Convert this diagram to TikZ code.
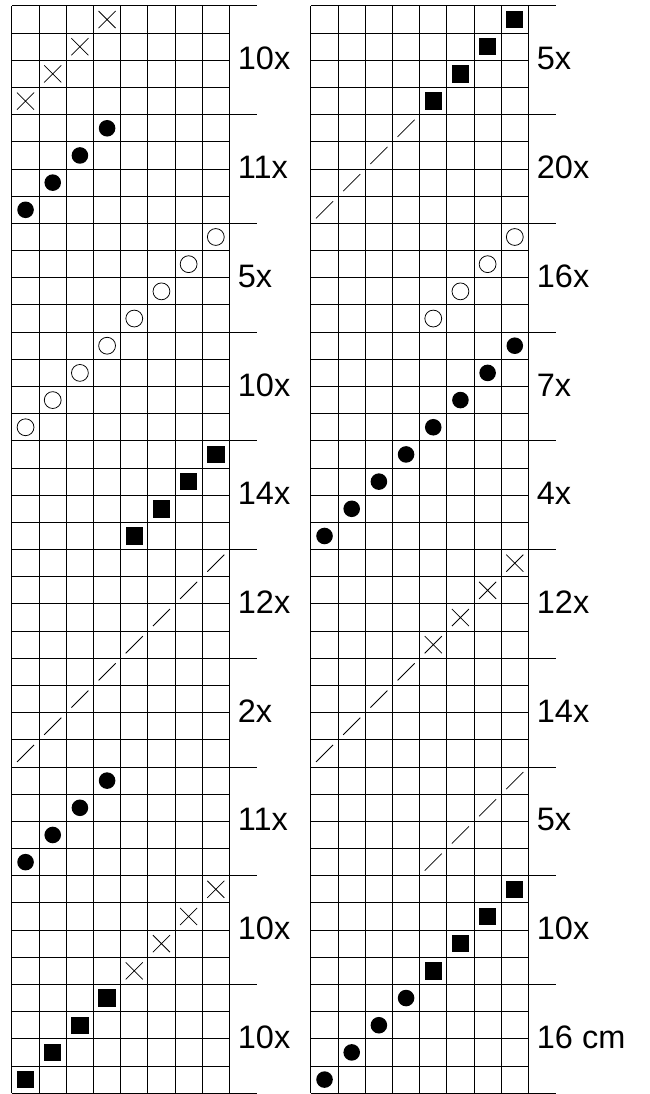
\documentclass[tikz,border=0pt]{standalone}
\usepackage{fontspec}
\setmainfont{Liberation Sans}
\usepackage{tikz}
\usetikzlibrary{shapes.misc}

\tikzset{
  dotnode/.style={circle, fill=black, inner sep=0pt, minimum size=0.305cm},
  ringnode/.style={circle, draw=black, line width=0.4pt, inner sep=0pt, minimum size=0.31cm},
  boxnode/.style={rectangle, fill=black, inner sep=0pt, minimum size=0.32cm},
  crossnode/.style={cross out, draw=black, line width=0.4pt, inner sep=0pt, minimum size=0.3cm},
  slashnode/.style={strike out, draw=black, line width=0.4pt, inner sep=0pt, minimum size=0.3cm},
  lbl/.style={anchor=west, inner sep=0pt, font=\fontsize{17}{20}\selectfont}
}

\begin{document}
\begin{tikzpicture}[scale=0.5]
  \useasboundingbox (-0.44,-0.03) rectangle (23.47,40.22);

  % two grids, 8 x 40
  \foreach \gx in {0,11}{
    \foreach \i in {0,...,8}
      \draw[line width=0.5pt] (\gx+\i,0) -- (\gx+\i,40);
    \foreach \j in {0,...,40}
      \draw[line width=0.5pt] (\gx,\j) -- (\gx+8,\j);
    % section marks
    \foreach \j in {0,4,...,40}
      \draw[line width=0.5pt] (\gx+8,\j) -- (\gx+9,\j);
  }

  %---- left grid ----
  \foreach \s/\c/\r in {crossnode/0/36, dotnode/0/32, ringnode/4/28, ringnode/0/24,
      boxnode/4/20, slashnode/4/16, slashnode/0/12, dotnode/0/8, crossnode/4/4, boxnode/0/0}{
    \foreach \i in {0,...,3}
      \node[\s] (L-\r-\i) at (\c+\i+0.5,\r+\i+0.5) {};
  }

  %---- right grid ----
  \foreach \s/\c/\r in {boxnode/4/36, slashnode/0/32, ringnode/4/28, dotnode/4/24,
      dotnode/0/20, crossnode/4/16, slashnode/0/12, slashnode/4/8, boxnode/4/4, dotnode/0/0}{
    \foreach \i in {0,...,3}
      \node[\s] (R-\r-\i) at (11+\c+\i+0.5,\r+\i+0.5) {};
  }

  % counts
  \foreach \t [count=\k from 0] in {10x,10x,11x,2x,12x,14x,10x,5x,11x,10x}
    \node[lbl] (lt-\k) at (8.3,4*\k+2.06) {\t};
  \foreach \t [count=\k from 0] in {16 cm,10x,5x,14x,12x,4x,7x,16x,20x,5x}
    \node[lbl] (rt-\k) at (19.3,4*\k+2.06) {\t};

\end{tikzpicture}
\end{document}
